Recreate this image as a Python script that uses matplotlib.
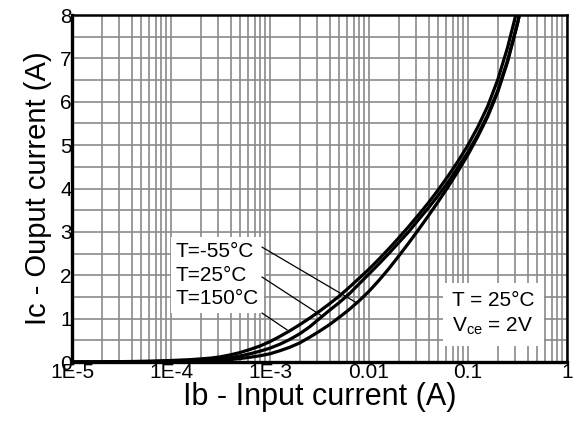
import matplotlib
matplotlib.use("Agg")
import matplotlib.pyplot as plt
from matplotlib.ticker import FixedLocator, FixedFormatter, LogLocator, NullFormatter, MultipleLocator
import numpy as np

plt.rcParams['font.family'] = ['Liberation Sans', 'DejaVu Sans']
plt.rcParams['mathtext.default'] = 'regular'

# ---- data ----
log_ib = [-5.0, -4.8, -4.6, -4.4, -4.2, -4.0, -3.8, -3.6, -3.5, -3.4, -3.3, -3.2, -3.1,
          -3.0, -2.9, -2.8, -2.7, -2.6, -2.5, -2.4, -2.3, -2.2, -2.1, -2.0, -1.9, -1.8,
          -1.7, -1.6, -1.5, -1.4, -1.3, -1.2, -1.1, -1.0, -0.9, -0.8, -0.7, -0.6, -0.5,
          -0.45, -0.4]

ic_hot = [0.0, 0.003, 0.007, 0.012, 0.02, 0.035, 0.055, 0.09, 0.12, 0.165, 0.22, 0.29, 0.37,
          0.47, 0.59, 0.72, 0.86, 1.01, 1.17, 1.34, 1.52, 1.72, 1.93, 2.14, 2.37, 2.61,
          2.86, 3.12, 3.39, 3.67, 3.97, 4.29, 4.63, 5.0, 5.42, 5.9, 6.5, 7.25, 8.15,
          8.7, 9.3]

ic_room = [0.0, 0.002, 0.004, 0.007, 0.012, 0.02, 0.032, 0.055, 0.075, 0.1, 0.14, 0.19, 0.25,
           0.32, 0.41, 0.52, 0.65, 0.81, 1.0, 1.19, 1.37, 1.57, 1.8, 2.03, 2.26, 2.5,
           2.75, 3.0, 3.28, 3.55, 3.84, 4.15, 4.49, 4.84, 5.24, 5.7, 6.25, 6.95, 7.8,
           8.3, 8.9]

ic_cold = [0.0, 0.001, 0.002, 0.004, 0.006, 0.01, 0.017, 0.03, 0.04, 0.055, 0.08, 0.11, 0.145,
           0.19, 0.26, 0.34, 0.44, 0.57, 0.71, 0.86, 1.03, 1.21, 1.41, 1.63, 1.88, 2.15,
           2.44, 2.74, 3.05, 3.37, 3.7, 4.04, 4.4, 4.78, 5.2, 5.66, 6.22, 6.92, 7.8,
           8.35, 8.95]

temp_labels = ["T=-55°C", "T=25°C", "T=150°C"]
# leader lines: start (next to the label text) and end on the curves, in (Ib [A], Ic [A])
leader_start_ib = [8.3e-4, 8.3e-4, 8.3e-4]
leader_start_ic = [2.65, 1.96, 1.13]
leader_end_ib = [7.57e-3, 3.35e-3, 1.49e-3]
leader_end_ic = [1.36, 1.06, 0.74]

x_ticks = [1e-5, 1e-4, 1e-3, 1e-2, 1e-1, 1]
x_tick_labels = ["1E-5", "1E-4", "1E-3", "0.01", "0.1", "1"]
y_ticks = [0, 1, 2, 3, 4, 5, 6, 7, 8]

# ---- figure ----
fig = plt.figure(figsize=(5.75, 4.24), dpi=100)
ax = fig.add_axes([0.1252, 0.1462, 0.986 - 0.1252, 0.9646 - 0.1462])

ax.set_xscale('log')
ax.set_xlim(1e-5, 1)
ax.set_ylim(0, 8)

ax.xaxis.set_major_locator(FixedLocator(x_ticks))
ax.xaxis.set_major_formatter(FixedFormatter(x_tick_labels))
ax.xaxis.set_minor_locator(LogLocator(base=10, subs=np.arange(2, 10)))
ax.xaxis.set_minor_formatter(NullFormatter())
ax.yaxis.set_major_locator(FixedLocator(y_ticks))
ax.yaxis.set_minor_locator(MultipleLocator(0.5))

ax.grid(True, which='both', axis='both', color='#8a8a8a', linewidth=1.2)
ax.set_axisbelow(True)

ax.tick_params(which='both', length=0)
ax.tick_params(axis='x', labelsize=15, pad=1)
ax.tick_params(axis='y', labelsize=15, pad=0)

for name, s in ax.spines.items():
    s.set_color('black')
    s.set_linewidth(2.4 if name in ('left', 'bottom') else 1.8)

xs = 10 ** np.array(log_ib)
for ys in (ic_hot, ic_room, ic_cold):
    ax.plot(xs, ys, color='black', linewidth=2.3, zorder=5,
            solid_capstyle='round', solid_joinstyle='round')

ax.set_xlabel("Ib - Input current (A)", fontsize=22, labelpad=0)
ax.set_ylabel("Ic - Ouput current (A)", fontsize=21, labelpad=6)

# temperature label box
ax.text(0.21, 0.2507, "\n".join(temp_labels), transform=ax.transAxes,
        fontsize=15, ha='left', va='center', linespacing=1.3, zorder=6,
        bbox=dict(boxstyle='square,pad=0.25', facecolor='white', edgecolor='none'))

for sx, sy, ex, ey in zip(leader_start_ib, leader_start_ic, leader_end_ib, leader_end_ic):
    ax.annotate("", xy=(ex, ey), xytext=(sx, sy), textcoords='data',
                arrowprops=dict(arrowstyle='-', color='black', linewidth=0.9,
                                shrinkA=0, shrinkB=0), zorder=7)

# condition box
ax.text(0.768, 0.138, "T = 25°C\nV$_{ce}$ = 2V", transform=ax.transAxes,
        fontsize=15, ha='left', va='center', linespacing=1.35, zorder=6,
        bbox=dict(boxstyle='square,pad=0.45', facecolor='white', edgecolor='none'))

fig.savefig("out.png", dpi=100)
